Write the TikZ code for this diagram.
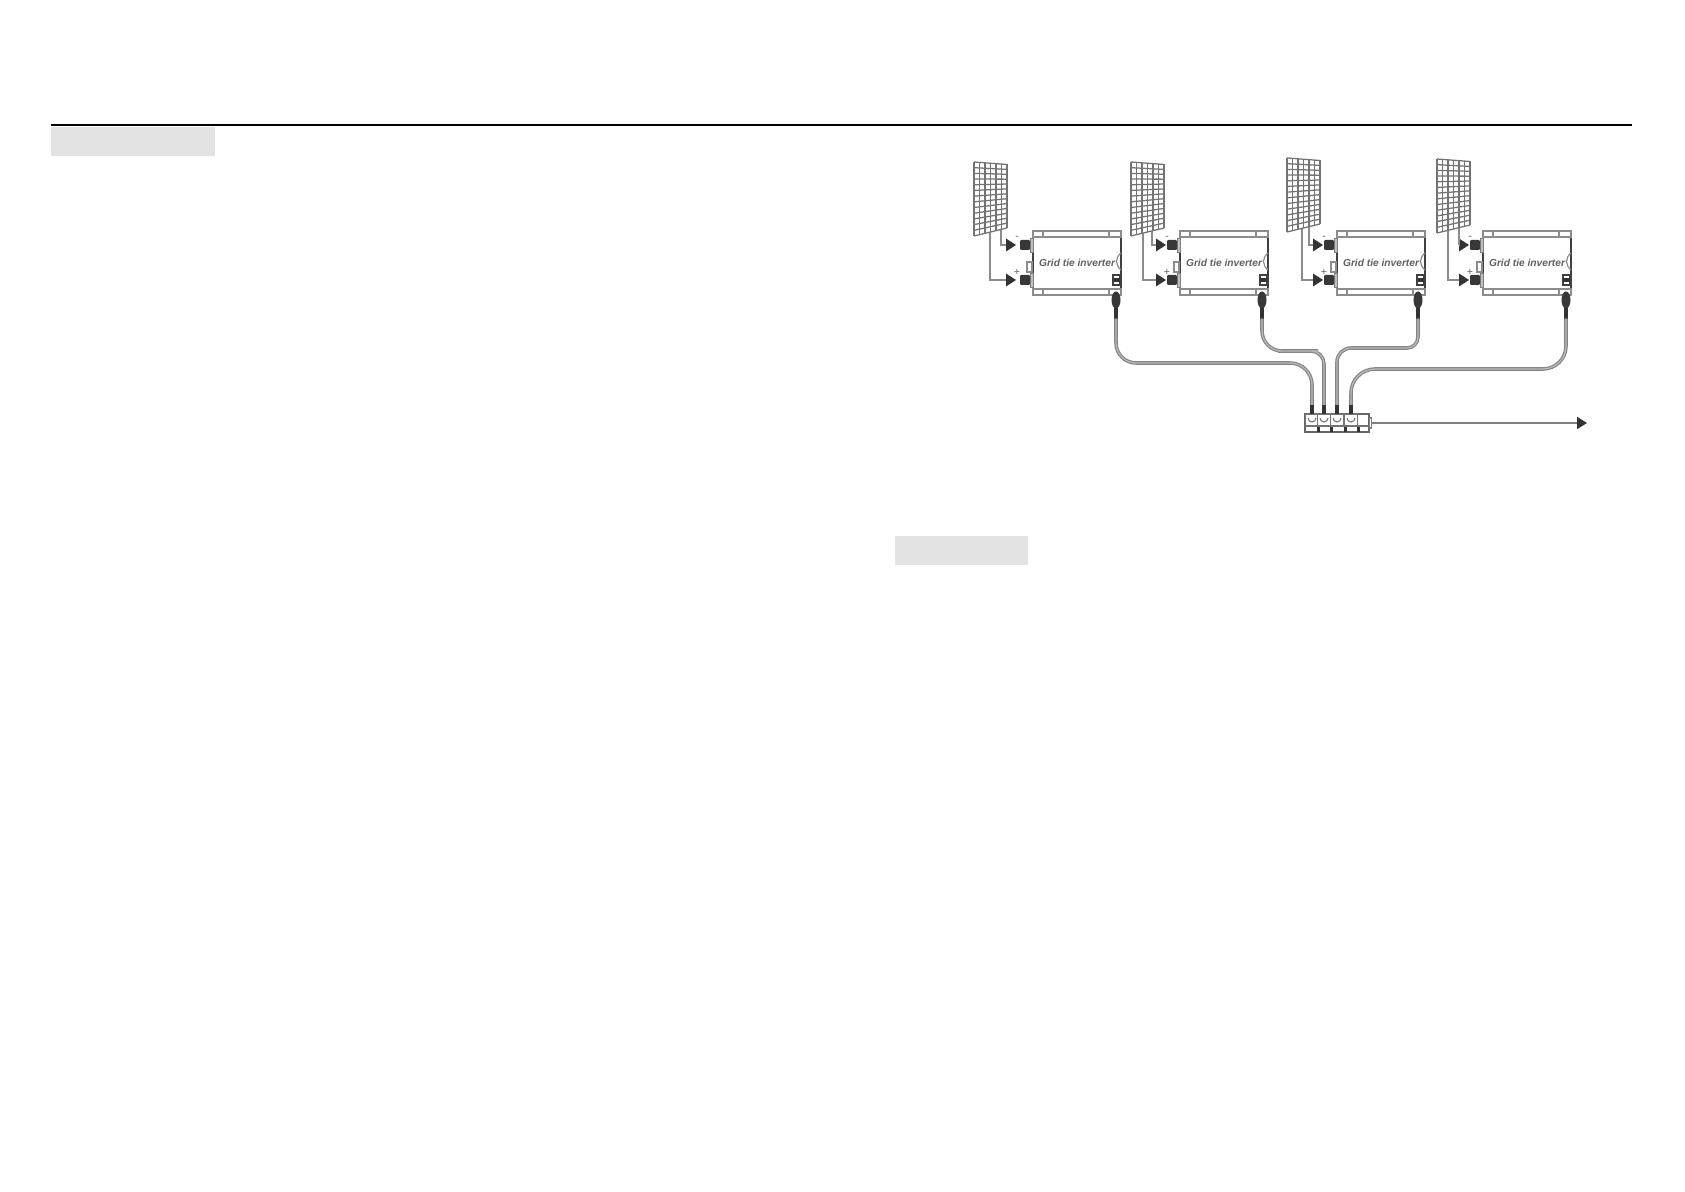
\documentclass[tikz,border=0pt]{standalone}
\usepackage{fontspec}
\setsansfont{Liberation Sans}
\usetikzlibrary{shapes,arrows.meta,positioning,calc}

\begin{document}
\begin{tikzpicture}[
    x=0.01cm, y=-0.01cm,
    node distance=0cm,
    headbox/.style={rectangle, fill=black!11, anchor=north west, inner sep=0pt, outer sep=0pt},
    invbox/.style={rectangle, draw=black!75, line width=0.45pt, fill=white, anchor=north west, minimum width=0.88cm, minimum height=0.52cm, inner sep=0pt, outer sep=0pt, align=center, text=black!62, font=\fontsize{2.9pt}{3pt}\sffamily\bfseries\itshape},
    flange/.style={rectangle, draw=black!45, line width=0.4pt, fill=white, minimum width=0.88cm, minimum height=0.06cm, inner sep=0pt, outer sep=0pt},
    tipnode/.style={isosceles triangle, isosceles triangle stretches, fill=black!80, minimum width=0.13cm, minimum height=0.10cm, inner sep=0pt, outer sep=0pt, anchor=apex},
    collar/.style={rectangle, draw=black!50, fill=black!25, line width=0.25pt, minimum width=0.03cm, minimum height=0.14cm, inner sep=0pt, outer sep=0pt, anchor=east},
    darkplug/.style={rectangle, rounded corners=0.3pt, fill=black!78, minimum width=0.10cm, minimum height=0.10cm, inner sep=0pt, outer sep=0pt},
    plugbody/.style={ellipse, fill=black!78, minimum width=0.09cm, minimum height=0.17cm, inner sep=0pt, outer sep=0pt},
    plugneck/.style={rectangle, fill=black!80, minimum width=0.04cm, minimum height=0.10cm, inner sep=0pt, outer sep=0pt},
    sockbox/.style={rectangle, draw=black!55, line width=0.3pt, fill=white, minimum width=0.13cm, minimum height=0.12cm, inner sep=0pt, outer sep=0pt},
    wire/.style={draw=black!45, line width=0.33pt},
    cable/.style={draw=black!48, double=black!28, line width=0.33pt, double distance=0.35pt},
    signtext/.style={text=black!60, inner sep=0pt, font=\fontsize{3pt}{3pt}\sffamily}
]
\path[use as bounding box, fill=white] (0,0) rectangle (1685,1192);

\coordinate (rulestart) at (51,125);
\coordinate (ruleend) at (1632,125);
\draw[line width=0.35pt] (rulestart) -- (ruleend);
\node[headbox, minimum width=1.64cm, minimum height=0.29cm] (head1) at (51,127) {};
\node[headbox, minimum width=1.33cm, minimum height=0.29cm] (head2) at (895,536) {};

\foreach \n/\x/\pl/\pt/\wa/\wb/\ap/\cx in {1/1033/974/162/1001/990/1016/1116, 2/1180/1131/162/1152/1143/1166/1262, 3/1337/1287/158/1309/1302/1323/1418, 4/1483/1437/159/1459/1448/1469/1566} {
    \coordinate (pa\n) at (\pl,\pt);
    \coordinate (pb\n) at (\pl+33,\pt+2.5);
    \coordinate (pc\n) at (\pl+33,\pt+66);
    \coordinate (pd\n) at (\pl,\pt+74);
    \coordinate (pm\n) at (\wa,\pt+66);
    \coordinate (pp\n) at (\wb,\pt+70);

    \node[invbox] (inv\n) at (\x,237) {Grid tie inverter};
    \node[flange, above=of inv\n] (ftop\n) {};
    \node[flange, below=of inv\n] (fbot\n) {};
    \draw[wire] (\x+10,232) -- (\x+10,237) (\x+76,232) -- (\x+76,237);
    \draw[wire] (\x+10,289) -- (\x+10,295) (\x+76,289) -- (\x+76,295);

    \node[tipnode] (tm\n) at (\ap,245) {};
    \node[tipnode] (tp\n) at (\ap,280) {};
    \node[collar] (cm\n) at (\x,245) {};
    \node[collar] (cp\n) at (\x,280) {};
    \node[darkplug, left=of cm\n] (dm\n) {};
    \node[darkplug, left=of cp\n] (dp\n) {};
    \draw[wire] (pm\n) |- (tm\n.west);
    \draw[wire] (pp\n) |- (tp\n.west);
    \node[signtext] (sm\n) at (\ap+1,238) {-};
    \node[signtext] (sp\n) at (\ap+1,272) {+};

    \fill[white] (pa\n) -- (pb\n) -- (pc\n) -- (pd\n) -- cycle;
    \foreach \r in {0,...,13}
        \draw[black!55, line width=0.36pt] ($(pa\n)!\r/13!(pd\n)$) -- ($(pb\n)!\r/13!(pc\n)$);
    \foreach \r in {0,...,6}
        \draw[black!55, line width=0.36pt] ($(pa\n)!\r/6!(pb\n)$) -- ($(pd\n)!\r/6!(pc\n)$);

    \draw[wire, fill=white] (\x-6,262) rectangle (\x-1,272);
    \draw[wire] (\x+88,253) .. controls (\x+82,258) and (\x+82,265) .. (\x+88,270);
    \draw[draw=black!75, line width=0.3pt, fill=white] (\x+80,275) rectangle (\x+87,285);
    \fill[black!80] (\x+80,278) rectangle (\x+87,282);

    \node[plugbody] (plug\n) at (\cx,300) {};
    \node[plugneck, below=of plug\n] (neck\n) {};
}

\node[rectangle, draw=black!60, line width=0.4pt, fill=white, anchor=north west, minimum width=0.64cm, minimum height=0.18cm, inner sep=0pt, outer sep=0pt] (combo) at (1305,414) {};
\node[rectangle, draw=black!50, line width=0.3pt, fill=white, minimum width=0.025cm, minimum height=0.10cm, inner sep=0pt, outer sep=0pt, right=of combo] (tab) {};
\foreach \n/\s/\f in {1/1312/1318, 2/1324/1331, 3/1337/1345, 4/1351/1358} {
    \node[sockbox] (sock\n) at (\s,420) {};
    \draw[black!55, line width=0.3pt] (\s-4,418) arc[start angle=180, end angle=360, radius=0.04cm];
    \node[plugneck, above=of sock\n, minimum height=0.09cm] (jack\n) {};
    \node[rectangle, fill=black!80, minimum width=0.03cm, minimum height=0.05cm, inner sep=0pt, outer sep=0pt] (foot\n) at (\f,429.5) {};
}
\draw[black!55, line width=0.3pt] (combo.west |- 426,426) -- (combo.east |- 426,426);

\foreach \n/\bx/\y/\ra/\rb in {1/1200/363/20/22, 2/1298/351/20/13, 3/1380/348/11/14, 4/1450/369/23/24} {
    \coordinate (bend\n) at (\bx,\y);
    \draw[cable] (neck\n.south) [rounded corners=0.\ra cm] |- (bend\n) [rounded corners=0.\rb cm] -| (jack\n.north);
}

\coordinate (out) at (1587,423);
\draw[black!50, line width=0.5pt, -{Triangle[length=0.10cm, width=0.12cm, color=black!80]}] (tab.east) -- (out);
\end{tikzpicture}
\end{document}
